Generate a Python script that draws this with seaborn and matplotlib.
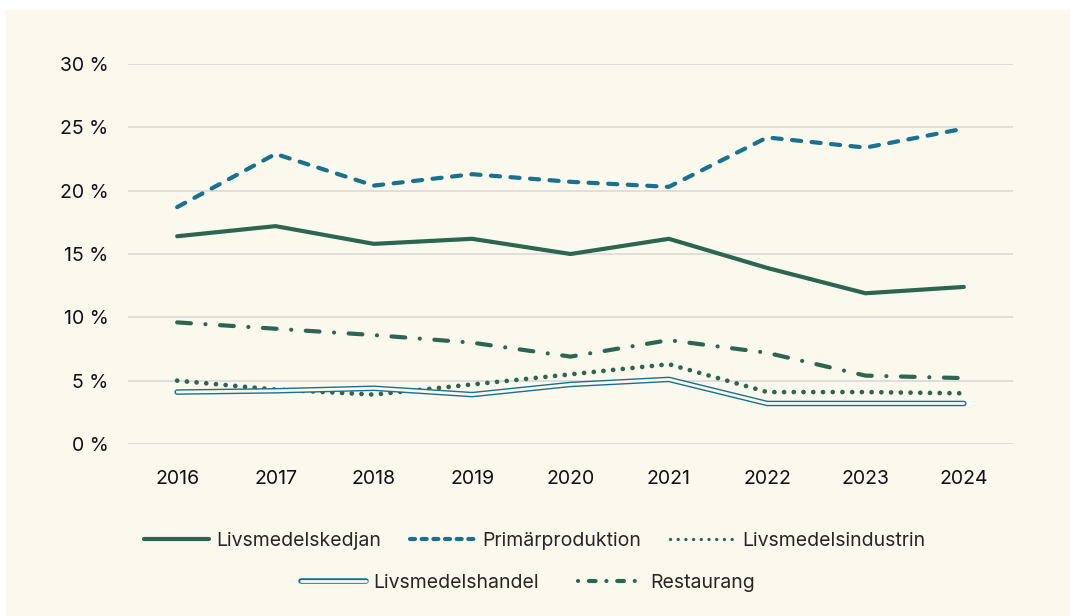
import numpy as np
import pandas as pd
import seaborn as sns
import matplotlib
matplotlib.use("Agg")
import matplotlib.pyplot as plt
from matplotlib.lines import Line2D
from matplotlib.patches import Rectangle
from matplotlib.ticker import FuncFormatter

years = [2016, 2017, 2018, 2019, 2020, 2021, 2022, 2023, 2024]
livsmedelskedjan = [16.4, 17.2, 15.8, 16.2, 15.0, 16.2, 13.9, 11.9, 12.4]
primarproduktion = [18.7, 22.9, 20.4, 21.3, 20.7, 20.3, 24.2, 23.4, 24.9]
livsmedelsindustrin = [5.0, 4.3, 3.9, 4.7, 5.5, 6.3, 4.1, 4.1, 4.0]
livsmedelshandel = [4.1, 4.2, 4.4, 3.9, 4.7, 5.1, 3.2, 3.2, 3.2]
restaurang = [9.6, 9.1, 8.6, 8.0, 6.9, 8.2, 7.2, 5.4, 5.2]
yticks = [0, 5, 10, 15, 20, 25, 30]

BG = "#fbf9ee"
GREEN = "#2c6650"
TEAL = "#17718f"
GRID = "#dcdcdc"

sns.set_theme(style="white")
plt.rcParams["font.family"] = ["Inter", "DejaVu Sans"]

fig = plt.figure(figsize=(10.7, 6.16), dpi=100)
fig.patch.set_facecolor("white")
fig.patches.append(Rectangle((6 / 1070, 0), 1, 1 - 10 / 616, transform=fig.transFigure,
                             facecolor=BG, edgecolor="none", zorder=-10))
ax = fig.add_axes([128 / 1070, (616 - 444) / 616, (1013 - 128) / 1070, (444 - 64) / 616])
ax.patch.set_alpha(0)

lw = 3.0
DASH = (2.2, 2.5)
DOT = (0.01, 2.05)
DASHDOT = (3.3, 3.5, 0.01, 3.5)
common = dict(ax=ax, legend=False, clip_on=False)


def restyle(dashes):
    ln = ax.lines[-1]
    ln.set_dashes(dashes)
    ln.set_dash_capstyle("round")


sns.lineplot(x=years, y=livsmedelskedjan, color=GREEN, lw=lw, solid_capstyle="round", **common)
sns.lineplot(x=years, y=primarproduktion, color=TEAL, lw=lw, **common)
restyle(DASH)
sns.lineplot(x=years, y=livsmedelsindustrin, color=GREEN, lw=3.4, **common)
restyle(DOT)
sns.lineplot(x=years, y=livsmedelshandel, color=TEAL, lw=4.0, solid_capstyle="round", **common)
sns.lineplot(x=years, y=livsmedelshandel, color=BG, lw=2.0, solid_capstyle="round", **common)
sns.lineplot(x=years, y=restaurang, color=GREEN, lw=lw, **common)
restyle(DASHDOT)

ax.set_xlim(2015.5, 2024.5)
ax.set_ylim(0, 30)
ax.set_yticks(yticks)
ax.set_xticks(years)
ax.yaxis.set_major_formatter(FuncFormatter(lambda v, p: f"{int(v)} %"))
ax.grid(axis="y", color=GRID, lw=1.3)
ax.grid(axis="x", visible=False)
ax.set_axisbelow(True)
for s in ax.spines.values():
    s.set_visible(False)
ax.tick_params(axis="y", length=0, pad=14, labelsize=14, labelcolor="#111111")
ax.tick_params(axis="x", length=0, pad=19, labelsize=14, labelcolor="#111111")
ax.set_xlabel("")
ax.set_ylabel("")

h1 = Line2D([], [], color=GREEN, lw=lw, solid_capstyle="round")
h2 = Line2D([], [], color=TEAL, lw=lw, dashes=(1.2, 1.6), dash_capstyle="round")
h3 = Line2D([], [], color=GREEN, lw=2.4, dashes=(0.01, 2.3), dash_capstyle="round")
h4a = Line2D([], [], color=TEAL, lw=4.0, solid_capstyle="round")
h4b = Line2D([], [], color=BG, lw=2.0, solid_capstyle="round")
h5 = Line2D([], [], color=GREEN, lw=lw, dashes=(0.01, 2.6, 1.6, 2.6), dash_capstyle="round")

kw = dict(loc="center", frameon=False, fontsize=14, handlelength=3.3, handletextpad=0.4)
leg1 = fig.legend([h1, h2, h3], ["Livsmedelskedjan", "Primärproduktion", "Livsmedelsindustrin"],
                  bbox_to_anchor=(0.5, 1 - 541 / 616), ncol=3, columnspacing=1.5, **kw)
leg2 = fig.legend([(h4a, h4b), h5], ["Livsmedelshandel", "Restaurang"],
                  bbox_to_anchor=(528 / 1070, 1 - 583 / 616), ncol=2, columnspacing=2.0, **kw)

fig.savefig("out.png", dpi=100, facecolor="white")
